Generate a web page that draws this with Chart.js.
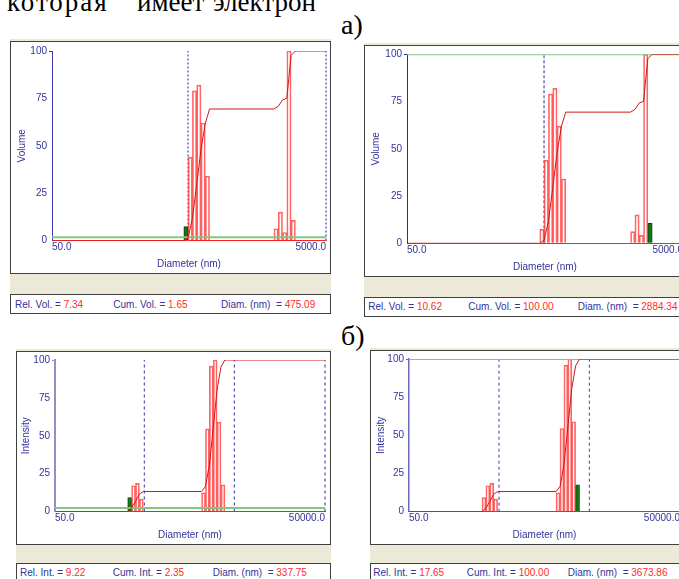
<!DOCTYPE html>
<html><head><meta charset="utf-8">
<script src="https://cdn.jsdelivr.net/npm/chart.js@4"></script>
<style>
html,body{margin:0;padding:0;width:679px;height:579px;overflow:hidden;background:#fff;}
.beige{position:absolute;background:#ece9d8;}
.frame,.status{position:absolute;background:#fff;border:1px solid #404040;box-sizing:border-box;}
.st{position:absolute;font:10px "Liberation Sans",Arial,sans-serif;line-height:12px;white-space:pre;}
.lab{color:#33339a}.val{color:#ff2a2a}
.serif{position:absolute;font-family:"Liberation Serif","Times New Roman",serif;color:#000;white-space:pre;}
canvas{position:absolute;}
</style></head><body>
<div class="serif" style="left:7px;top:-11px;font-size:27px;line-height:27px;letter-spacing:2px">которая</div>
<div class="serif" style="left:137px;top:-11px;font-size:27px;line-height:27px">имеет</div>
<div class="serif" style="left:213px;top:-11px;font-size:27px;line-height:27px">электрон</div>
<div class="serif" style="left:341px;top:10.5px;font-size:28px;line-height:28px">а)</div>
<div class="serif" style="left:341px;top:321.5px;font-size:28px;line-height:28px">б)</div>
<div id="root"></div>
<script>
// ---- data ----
const volDiam   = [475.1, 510.6, 548.8, 589.9, 634.0, 681.4, 2161.2, 2322.9, 2496.6, 2683.4, 2884.3];
const volValues = [7.34, 44, 79, 82, 62, 34, 6.2, 15, 4.2, 100, 10.62];
const volCumDiam = [50, 458.3, 492.5, 529.4, 569.0, 611.5, 657.3, 706.4, 2084.7, 2240.5, 2408.2, 2588.3, 2781.9, 2990, 5000];
const volCum     = [0, 0, 1.65, 11.6, 29.4, 47.9, 61.8, 69.4, 69.4, 70.8, 74.2, 75.1, 97.7, 100, 100];

const intDiam   = [337.75, 373.0, 412.0, 455.1, 2234.3, 2467.8, 2725.6, 3010.4, 3324.9, 3673.9];
const intValues = [9.22, 17, 18.6, 8.2, 12.4, 54.5, 96, 100, 58.9, 17.65];
const intCumDiam = [50, 321.4, 355.0, 392.0, 433.0, 478.3, 2125.9, 2348.2, 2593.6, 2864.6, 3163.9, 3494.5, 3861.2, 50000];
const intCum     = [0, 0, 2.35, 6.68, 11.42, 13.2, 13.2, 16.5, 30.5, 55.0, 80.5, 95.5, 100, 100];

const yTicks = [0, 25, 50, 75, 100];
const volXTicks = [50, 5000];
const volXTickLabels = ['50.0', '5000.0'];
const intXTicks = [50, 50000];
const intXTickLabels = ['50.0', '50000.0'];

const volMarkersA = [492, 5000];
const volMarkersB = [492, 5000];
const intMarkersA = [491, 4912, 50000];
const intMarkersB = [496, 4960, 50000];

const statusA1 = [['Rel. Vol. =', '7.34'], ['Cum. Vol. =', '1.65'], ['Diam. (nm)  =', '475.09']];
const statusA2 = [['Rel. Vol. =', '10.62'], ['Cum. Vol. =', '100.00'], ['Diam. (nm)  =', '2884.34']];
const statusB1 = [['Rel. Int. =', '9.22'], ['Cum. Int. =', '2.35'], ['Diam. (nm)  =', '337.75']];
const statusB2 = [['Rel. Int. =', '17.65'], ['Cum. Int. =', '100.00'], ['Diam. (nm)  =', '3673.86']];

// ---- layout / style ----
const NAVY = '#33339a';
Chart.defaults.font.family = '"Liberation Sans", Arial, sans-serif';
Chart.defaults.font.size = 10;

const panels = [
  { beige:[10,39,321,275], frame:[10,41,321,233], status:[10,294,321,20], canvas:[11,42,319,231],
    yW:41, xH:32.5, padTop:9, padRight:4, yTitle:'Volume', yTitlePad:5,
    diam:volDiam, values:volValues, sel:0, cumDiam:volCumDiam, cum:volCum, cursorCum:1.65,
    min:50, max:5000, xTicks:volXTicks, xLabels:volXTickLabels, markers:volMarkersA,
    axisColor:'#3a3aa8', axisW:1, markColor:'#8c8cd8', markW:2, markDash:[2,2],
    statusItems:statusA1, statusX:[15,113.3,221], statusCY:305 },
  { beige:[364,43,321,274], frame:[364,45,321,232], status:[364,297,321,20], canvas:[365,46,319,230],
    yW:42, xH:32.7, padTop:8.3, padRight:1, yTitle:'Volume', yTitlePad:5,
    diam:volDiam, values:volValues, sel:10, cumDiam:volCumDiam, cum:volCum, cursorCum:100,
    min:50, max:5000, xTicks:volXTicks, xLabels:volXTickLabels, markers:volMarkersB,
    axisColor:'#2c2c9c', axisW:1, markColor:'#2828a0', markW:1, markDash:[3,2],
    statusItems:statusA2, statusX:[368.3,468.3,577.7], statusCY:306.7 },
  { beige:[16,349,315,235], frame:[16,351,315,194], status:[16,563,315,20], canvas:[17,352,313,192],
    yW:38, xH:32.5, padTop:8, padRight:5, yTitle:'Intensity', yTitlePad:3.5,
    diam:intDiam, values:intValues, sel:0, cumDiam:intCumDiam, cum:intCum, cursorCum:2.35,
    min:50, max:50000, xTicks:intXTicks, xLabels:intXTickLabels, markers:intMarkersA,
    axisColor:'#9090c8', axisW:2, markColor:'#3030a0', markW:1, markDash:[3,3],
    statusItems:statusB1, statusX:[20,112.7,212.7], statusCY:573.3 },
  { beige:[370,348,315,235], frame:[370,350,315,195], status:[370,563,315,20], canvas:[371,351,313,193],
    yW:38, xH:32.3, padTop:8, padRight:4, yTitle:'Intensity', yTitlePad:4,
    diam:intDiam, values:intValues, sel:9, cumDiam:intCumDiam, cum:intCum, cursorCum:100,
    min:50, max:50000, xTicks:intXTicks, xLabels:intXTickLabels, markers:intMarkersB,
    axisColor:'#6a6ab8', axisW:1.5, markColor:'#3a3aa8', markW:1, markDash:[3,3],
    statusItems:statusB2, statusX:[373.3,466.7,567.7], statusCY:573.3 }
];

const root = document.getElementById('root');
function box(cls, r) {
  const d = document.createElement('div');
  d.className = cls;
  d.style.left = r[0] + 'px'; d.style.top = r[1] + 'px';
  d.style.width = r[2] + 'px'; d.style.height = r[3] + 'px';
  root.appendChild(d);
  return d;
}

panels.forEach(p => {
  box('beige', p.beige);
  box('frame', p.frame);
  box('status', p.status);
  p.statusItems.forEach((it, i) => {
    const d = document.createElement('div');
    d.className = 'st';
    d.style.left = p.statusX[i] + 'px'; d.style.top = (p.statusCY - 6) + 'px';
    const a = document.createElement('span'); a.className = 'lab'; a.textContent = it[0] + ' ';
    const b = document.createElement('span'); b.className = 'val'; b.textContent = it[1];
    d.appendChild(a); d.appendChild(b);
    root.appendChild(d);
  });

  const cv = document.createElement('canvas');
  cv.width = p.canvas[2]; cv.height = p.canvas[3];
  cv.style.left = p.canvas[0] + 'px'; cv.style.top = p.canvas[1] + 'px';
  cv.style.width = p.canvas[2] + 'px'; cv.style.height = p.canvas[3] + 'px';
  root.appendChild(cv);

  const bars = p.diam.map((d, i) => ({x: d, y: p.values[i]}));
  const cum = p.cumDiam.map((d, i) => ({x: d, y: p.cum[i]}));
  const datasets = [
    { type:'bar', data:bars,
      backgroundColor: p.diam.map((d, i) => i === p.sel ? '#0c7c0c' : 'rgba(255,255,255,0)'),
      borderColor: p.diam.map((d, i) => i === p.sel ? '#1e3a1e' : 'rgba(255,60,60,0.8)'),
      borderWidth:1, borderSkipped:'start', categoryPercentage:1, barPercentage:1, grouped:false, order:3 },
    { type:'line', data:cum, borderColor:'#d01818', borderWidth:1, pointRadius:0, tension:0, order:1 },
    { type:'line', data:[{x:p.min, y:p.cursorCum}, {x:p.max, y:p.cursorCum}], borderColor:'#80c880',
      borderWidth:2, pointRadius:0, order:2 }
  ];
  p.markers.forEach(m => datasets.push({
    type:'line', data:[{x:m, y:0}, {x:m, y:100}], borderColor:p.markColor, borderWidth:p.markW,
    borderDash:p.markDash, pointRadius:0, order:4, clip:false
  }));

  new Chart(cv, {
    type:'bar',
    data:{ datasets },
    options:{
      responsive:false, maintainAspectRatio:false, animation:false, devicePixelRatio:1, events:[],
      layout:{ padding:{ left:0, top:p.padTop, right:p.padRight, bottom:0 } },
      plugins:{ legend:{display:false}, tooltip:{enabled:false} },
      scales:{
        x:{ type:'logarithmic', min:p.min, max:p.max, bounds:'data', offset:false,
            afterBuildTicks: ax => { ax.ticks = p.xTicks.map(v => ({value:v})); },
            afterFit: ax => { ax.height = p.xH; ax.paddingLeft = 0; ax.paddingRight = 0; },
            grid:{ display:false, drawTicks:false, offset:false },
            border:{ display:true, color:'#ff2020', width:1 },
            ticks:{ align:'inner', padding:1, color:NAVY, maxRotation:0, autoSkip:false,
                    callback:(v, i) => p.xLabels[i] },
            title:{ display:true, text:'Diameter (nm)', color:NAVY, padding:{top:0, bottom:3} } },
        y:{ type:'linear', min:0, max:100,
            afterBuildTicks: ax => { ax.ticks = yTicks.map(v => ({value:v})); },
            afterFit: ax => { ax.width = p.yW; ax.paddingTop = 0; ax.paddingBottom = 0; },
            grid:{ display:true, drawOnChartArea:false, drawTicks:true, tickLength:3,
                   tickColor: c => (c.tick && c.tick.value === 100) ? p.axisColor : 'rgba(0,0,0,0)' },
            border:{ display:true, color:p.axisColor, width:p.axisW },
            ticks:{ padding:2, color:NAVY },
            title:{ display:true, text:p.yTitle, color:NAVY, padding:{top:p.yTitlePad, bottom:0} } }
      }
    }
  });
});
</script>
</body></html>
